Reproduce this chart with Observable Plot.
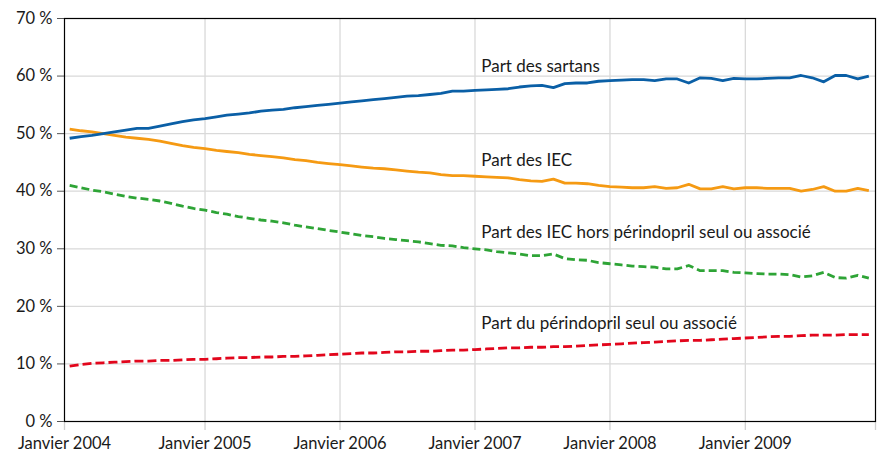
<!DOCTYPE html>
<html>
<head>
<meta charset="utf-8">
<script src="https://cdn.jsdelivr.net/npm/d3@7"></script>
<script src="https://cdn.jsdelivr.net/npm/@observablehq/plot@0.6"></script>
<style>
  html, body { margin: 0; padding: 0; background: #fff; }
  #chart svg { display: block; }
</style>
</head>
<body>
<div id="chart"></div>
<script>
// Monthly data, January 2004 to December 2009 (72 months)
const sartans = [
  49.2, 49.5, 49.7, 50.0, 50.3, 50.6, 50.9, 50.9, 51.3, 51.7, 52.1, 52.4,
  52.6, 52.9, 53.2, 53.4, 53.6, 53.9, 54.1, 54.2, 54.5, 54.7, 54.9, 55.1,
  55.3, 55.5, 55.7, 55.9, 56.1, 56.3, 56.5, 56.6, 56.8, 57.0, 57.4, 57.4,
  57.5, 57.6, 57.7, 57.8, 58.1, 58.3, 58.4, 58.0, 58.7, 58.8, 58.8, 59.1,
  59.2, 59.3, 59.4, 59.4, 59.2, 59.5, 59.5, 58.8, 59.7, 59.6, 59.2, 59.6,
  59.5, 59.5, 59.6, 59.7, 59.7, 60.1, 59.7, 59.0, 60.1, 60.1, 59.5, 60.0
];
const iec = [
  50.8, 50.5, 50.3, 50.0, 49.7, 49.4, 49.2, 49.0, 48.7, 48.3, 47.9, 47.6,
  47.4, 47.1, 46.9, 46.7, 46.4, 46.2, 46.0, 45.8, 45.5, 45.3, 45.0, 44.8,
  44.6, 44.4, 44.2, 44.0, 43.9, 43.7, 43.5, 43.3, 43.2, 42.9, 42.7, 42.7,
  42.6, 42.5, 42.4, 42.3, 42.0, 41.8, 41.7, 42.1, 41.4, 41.4, 41.3, 41.0,
  40.8, 40.7, 40.6, 40.6, 40.8, 40.5, 40.6, 41.2, 40.4, 40.4, 40.8, 40.4,
  40.6, 40.6, 40.5, 40.5, 40.5, 40.0, 40.3, 40.8, 40.0, 40.0, 40.5, 40.1
];
const iecHorsPerindopril = [
  41.0, 40.6, 40.2, 39.9, 39.5, 39.1, 38.8, 38.6, 38.3, 37.9, 37.4, 37.0,
  36.7, 36.3, 36.0, 35.6, 35.3, 35.0, 34.8, 34.5, 34.1, 33.8, 33.5, 33.2,
  32.9, 32.6, 32.3, 32.1, 31.8, 31.6, 31.4, 31.2, 30.9, 30.6, 30.5, 30.2,
  30.0, 29.8, 29.5, 29.3, 29.1, 28.8, 28.8, 29.1, 28.3, 28.1, 28.0, 27.6,
  27.4, 27.2, 27.0, 26.9, 26.8, 26.5, 26.5, 27.1, 26.2, 26.2, 26.2, 25.9,
  25.8, 25.7, 25.6, 25.6, 25.5, 25.1, 25.3, 25.9, 25.0, 24.9, 25.4, 24.9
];
const perindopril = [
   9.6,  9.9, 10.1, 10.2, 10.3, 10.4, 10.5, 10.5, 10.6, 10.6, 10.7, 10.8,
  10.8, 10.9, 11.0, 11.1, 11.1, 11.2, 11.2, 11.3, 11.3, 11.4, 11.5, 11.6,
  11.7, 11.8, 11.9, 11.9, 12.0, 12.1, 12.1, 12.2, 12.2, 12.3, 12.4, 12.4,
  12.5, 12.6, 12.7, 12.8, 12.8, 12.9, 12.9, 13.0, 13.0, 13.1, 13.2, 13.3,
  13.4, 13.5, 13.6, 13.7, 13.8, 13.9, 14.0, 14.1, 14.1, 14.2, 14.3, 14.4,
  14.5, 14.6, 14.7, 14.8, 14.8, 14.9, 15.0, 15.0, 15.0, 15.1, 15.1, 15.1
];

const seriesNames = [
  "Part des sartans",
  "Part des IEC",
  "Part des IEC hors périndopril seul ou associé",
  "Part du périndopril seul ou associé"
];
const seriesColors = ["#0a5fa6", "#f59a13", "#2ea436", "#e2061c"];

const yTicks = [0, 10, 20, 30, 40, 50, 60, 70];
const xStart = new Date(Date.UTC(2003, 11, 18));
const xEnd = new Date(Date.UTC(2009, 11, 19));
const xTicks = [xStart,
  new Date(Date.UTC(2005, 0, 1)), new Date(Date.UTC(2006, 0, 1)),
  new Date(Date.UTC(2007, 0, 1)), new Date(Date.UTC(2008, 0, 1)),
  new Date(Date.UTC(2009, 0, 1)), xEnd];
const xTickLabels = ["Janvier 2004", "Janvier 2005", "Janvier 2006",
  "Janvier 2007", "Janvier 2008", "Janvier 2009", ""];
const gridDates = xTicks.slice(1, 6);

// label anchor positions in data space (date, percent)
const labelDate = new Date(Date.UTC(2007, 0, 18));
const labelValues = [61.7, 45.4, 32.9, 17.0];

const months = d3.utcMonth.range(new Date(Date.UTC(2004, 0, 1)), new Date(Date.UTC(2010, 0, 1)));
const allSeries = [sartans, iec, iecHorsPerindopril, perindopril];
const rows = allSeries.map((vals, s) => vals.map((v, i) => ({date: months[i], value: v, series: seriesNames[s]})));
const labels = seriesNames.map((name, s) => ({date: labelDate, value: labelValues[s], text: name}));
const labelMap = new Map(xTicks.map((d, i) => [+d, xTickLabels[i]]));

const lineMark = (s, dash) => Plot.line(rows[s], {
  x: "date", y: "value", stroke: seriesColors[s], strokeWidth: 2.8,
  strokeDasharray: dash, strokeLinejoin: "round", strokeLinecap: "butt"
});

const chart = Plot.plot({
  width: 879,
  height: 453,
  marginLeft: 64,
  marginRight: 4,
  marginTop: 18,
  marginBottom: 32,
  style: {fontFamily: "Lato, 'Open Sans', sans-serif", fontSize: "16px", color: "#1a1a1a", background: "#fff"},
  x: {type: "utc", domain: [xStart, xEnd]},
  y: {domain: [0, 70]},
  marks: [
    Plot.ruleY(yTicks.slice(1, 7), {stroke: "#d9d9d9", strokeWidth: 1.3}),
    Plot.ruleX(gridDates, {stroke: "#d9d9d9", strokeWidth: 1.3}),
    Plot.axisY({ticks: yTicks, label: null, tickSize: 7, tickPadding: 5, tickFormat: d => d + "\u00a0%", stroke: "#555", fill: "#1a1a1a", fontSize: 16.5}),
    Plot.axisX({ticks: xTicks, label: null, tickSize: 9, tickPadding: 7, tickFormat: d => labelMap.get(+d), stroke: "#d0d0d0", strokeWidth: 1.3, fill: "#1a1a1a", fontSize: 16.5}),
    Plot.frame({stroke: "#000", strokeWidth: 1.2}),
    lineMark(3, "9,4"),
    lineMark(2, "8,4"),
    lineMark(1, null),
    lineMark(0, null),
    Plot.text(labels, {x: "date", y: "value", text: "text", textAnchor: "start", fontSize: 17, fill: "#1a1a1a"})
  ]
});
document.getElementById("chart").appendChild(chart);
</script>
</body>
</html>
